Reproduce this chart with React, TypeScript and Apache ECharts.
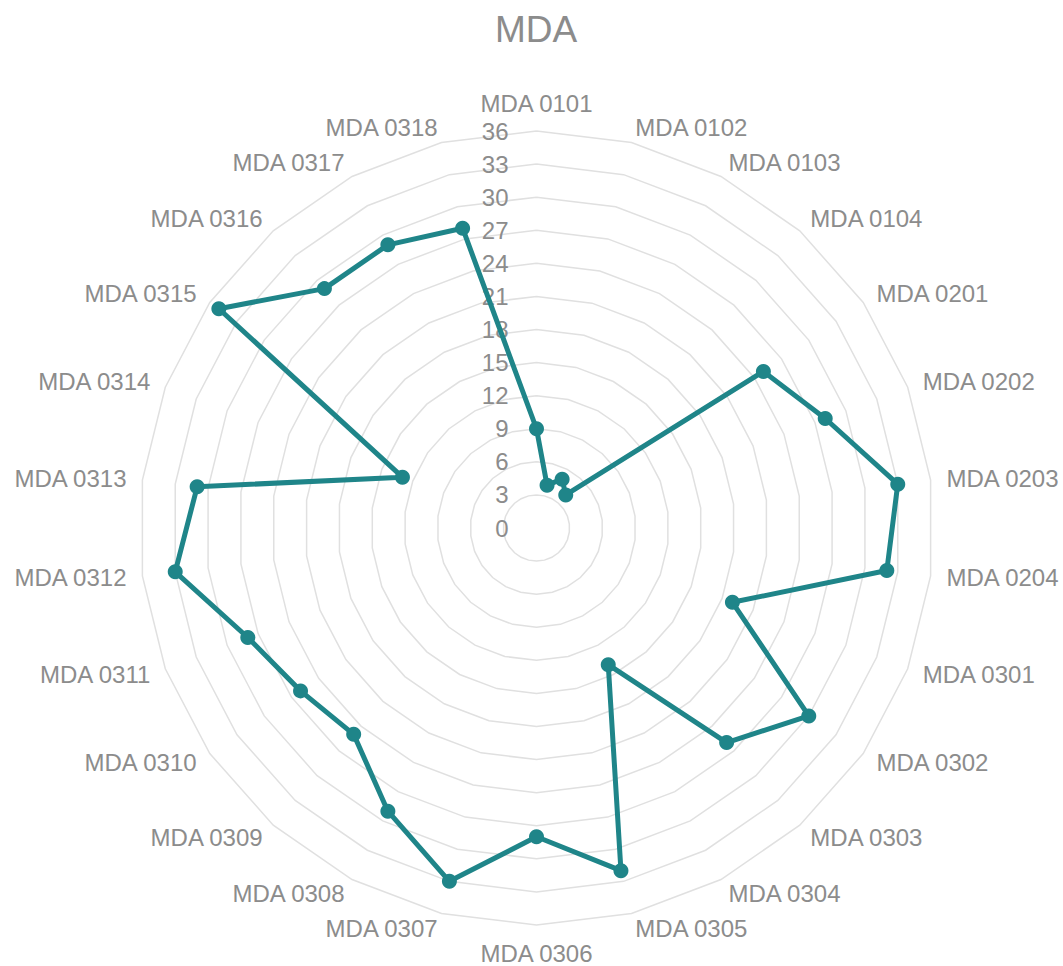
import React, { useEffect, useRef } from "react";
import * as echarts from "echarts";

const titleText = "MDA";
const categories = [
  "MDA 0101", "MDA 0102", "MDA 0103", "MDA 0104",
  "MDA 0201", "MDA 0202", "MDA 0203", "MDA 0204",
  "MDA 0301", "MDA 0302", "MDA 0303", "MDA 0304", "MDA 0305", "MDA 0306",
  "MDA 0307", "MDA 0308", "MDA 0309", "MDA 0310", "MDA 0311", "MDA 0312",
  "MDA 0313", "MDA 0314", "MDA 0315", "MDA 0316", "MDA 0317", "MDA 0318",
];
const values = [
  9, 4, 5, 4,
  25, 28, 33, 32,
  19, 30, 26, 14, 32, 28,
  33, 29, 25, 26, 28, 33,
  31, 13, 35, 29, 29, 28,
];
const axisMin = 0;
const axisMax = 36;
const tickStep = 3;

const FONT = "'Liberation Sans', Arial, sans-serif";
const GRAY = "#8c8c8c";
const TEAL = "#1f8589";

export default function App() {
  const ref = useRef<HTMLDivElement>(null);
  useEffect(() => {
    if (!ref.current) return;
    const chart = echarts.init(ref.current, undefined, { renderer: "svg" });
    // ECharts radar runs counter-clockwise; reorder so the picture runs clockwise.
    const order = [0, ...categories.map((_, i) => i).slice(1).reverse()];
    const indicator = order.map((i, k) => ({
      name: categories[i],
      min: axisMin,
      max: axisMax,
      axisLabel: k === 0 ? { show: true } : { show: false },
    }));
    const data = order.map((i) => values[i]);
    chart.setOption({
      animation: false,
      backgroundColor: "#ffffff",
      title: {
        text: titleText,
        left: 490,
        top: 6,
        textStyle: { color: GRAY, fontSize: 37, fontWeight: "normal", fontFamily: FONT },
      },
      radar: {
        center: [536.5, 528],
        radius: 397,
        startAngle: 90,
        shape: "polygon",
        splitNumber: (axisMax - axisMin) / tickStep,
        axisName: { color: GRAY, fontSize: 24, fontFamily: FONT },
        nameGap: 16,
        axisLine: { show: false },
        axisTick: { show: false },
        splitArea: { show: false },
        splitLine: { lineStyle: { color: "#e0e0e0", width: 1.5 } },
        axisLabel: {
          show: false,
          color: GRAY,
          fontSize: 24,
          fontFamily: FONT,
          margin: 28,
        },
        indicator,
      },
      series: [
        {
          type: "radar",
          symbol: "circle",
          symbolSize: 15,
          lineStyle: { color: TEAL, width: 5 },
          itemStyle: { color: TEAL },
          data: [{ value: data, name: titleText }],
        },
      ],
    });
    return () => chart.dispose();
  }, []);
  return (
    <div
      ref={ref}
      style={{ position: "fixed", left: 0, top: 0, width: 1063, height: 966, background: "#fff" }}
    />
  );
}
